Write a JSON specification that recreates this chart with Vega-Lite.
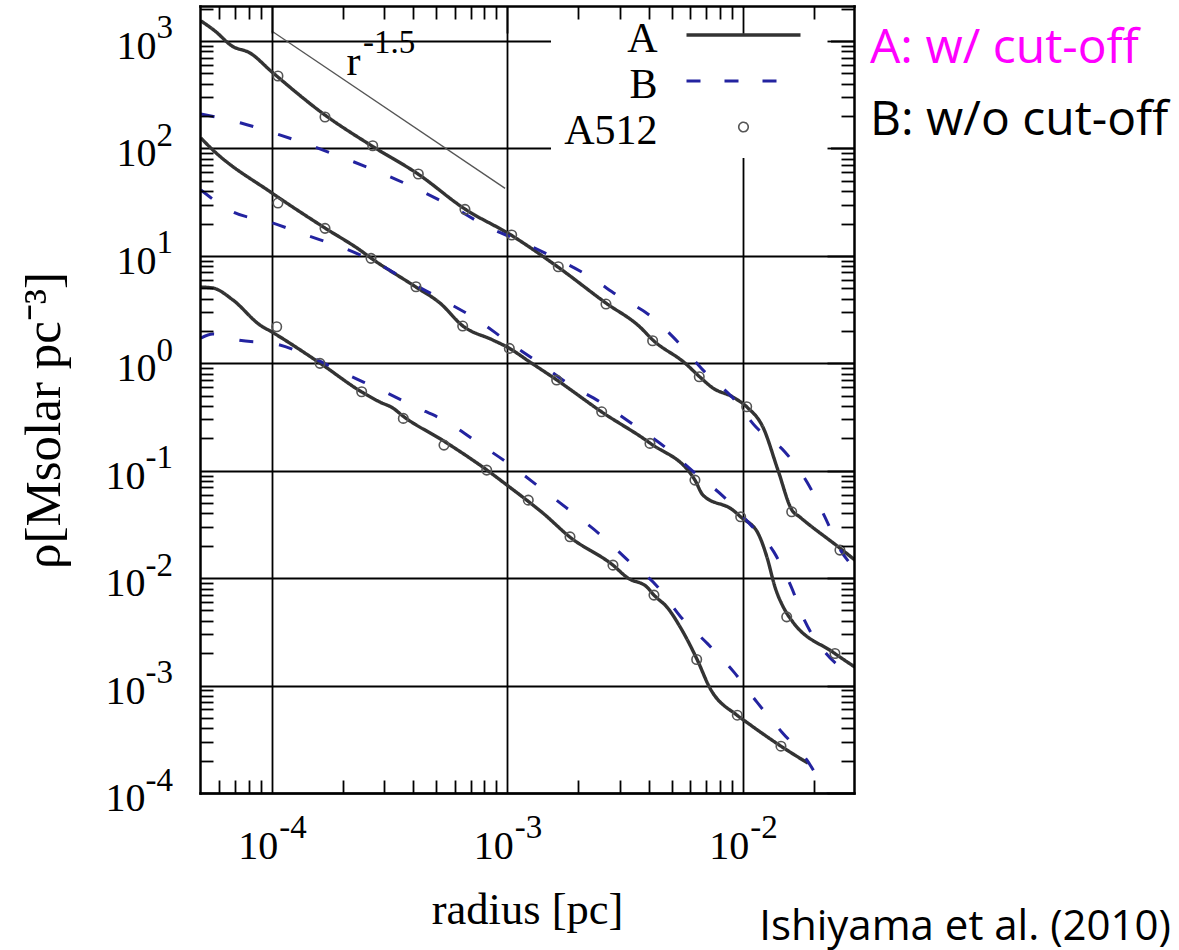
{
  "$schema": "https://vega.github.io/schema/vega-lite/v6.json",
  "width": 654,
  "height": 787,
  "autosize": {"type": "none"},
  "padding": {"left": 200, "top": 6, "right": 325, "bottom": 157},
  "background": "white",
  "title": {
    "text": "Ishiyama et al. (2010)",
    "orient": "bottom",
    "anchor": "end",
    "frame": "group",
    "font": "Open Sans",
    "fontSize": 42,
    "fontWeight": "normal",
    "color": "#000000",
    "offset": 0,
    "dx": 317,
    "dy": -25
  },
  "config": {
    "view": {"stroke": null},
    "axis": {
      "labelFont": "Liberation Serif",
      "titleFont": "Liberation Serif",
      "labelColor": "#000000",
      "titleColor": "#000000",
      "tickColor": "#000000",
      "domainColor": "#000000",
      "gridColor": "#000000",
      "labelOverlap": false,
      "labelFlush": false,
      "labelBound": false,
      "tickWidth": 1.8,
      "domainWidth": 2.5,
      "domainCap": "square",
      "gridWidth": 1.8,
      "gridOpacity": 1,
      "titleFontWeight": "normal",
      "labelFontWeight": "normal"
    }
  },
  "datasets": {
    "profiles": [
      {"model": "A", "halo": 1, "r": 0.00005, "rho": 1540},
      {"model": "A", "halo": 1, "r": 0.00005743, "rho": 1239},
      {"model": "A", "halo": 1, "r": 0.00006782, "rho": 898},
      {"model": "A", "halo": 1, "r": 0.00008089, "rho": 773},
      {"model": "A", "halo": 1, "r": 0.0001003, "rho": 514},
      {"model": "A", "halo": 1, "r": 0.0001684, "rho": 204.6},
      {"model": "A", "halo": 1, "r": 0.0002666, "rho": 105.3},
      {"model": "A", "halo": 1, "r": 0.000418, "rho": 57.8},
      {"model": "A", "halo": 1, "r": 0.0006616, "rho": 27.28},
      {"model": "A", "halo": 1, "r": 0.001038, "rho": 15.62},
      {"model": "A", "halo": 1, "r": 0.001643, "rho": 7.866},
      {"model": "A", "halo": 1, "r": 0.002627, "rho": 3.636},
      {"model": "A", "halo": 1, "r": 0.003665, "rho": 2.174},
      {"model": "A", "halo": 1, "r": 0.004158, "rho": 1.644},
      {"model": "A", "halo": 1, "r": 0.005689, "rho": 1.004},
      {"model": "A", "halo": 1, "r": 0.006588, "rho": 0.7437},
      {"model": "A", "halo": 1, "r": 0.00748, "rho": 0.5875},
      {"model": "A", "halo": 1, "r": 0.009095, "rho": 0.4845},
      {"model": "A", "halo": 1, "r": 0.01043, "rho": 0.391},
      {"model": "A", "halo": 1, "r": 0.01219, "rho": 0.2547},
      {"model": "A", "halo": 1, "r": 0.01412, "rho": 0.1013},
      {"model": "A", "halo": 1, "r": 0.01619, "rho": 0.04295},
      {"model": "A", "halo": 1, "r": 0.01751, "rho": 0.03698},
      {"model": "A", "halo": 1, "r": 0.02588, "rho": 0.01903},
      {"model": "A", "halo": 1, "r": 0.03, "rho": 0.01471},

      {"model": "A", "halo": 2, "r": 0.00005, "rho": 125.0},
      {"model": "A", "halo": 2, "r": 0.0000563, "rho": 96.6},
      {"model": "A", "halo": 2, "r": 0.0001003, "rho": 38.43},
      {"model": "A", "halo": 2, "r": 0.0001684, "rho": 18.15},
      {"model": "A", "halo": 2, "r": 0.0002371, "rho": 11.32},
      {"model": "A", "halo": 2, "r": 0.000264, "rho": 9.539},
      {"model": "A", "halo": 2, "r": 0.0004099, "rho": 5.124},
      {"model": "A", "halo": 2, "r": 0.0005183, "rho": 3.636},
      {"model": "A", "halo": 2, "r": 0.000649, "rho": 2.221},
      {"model": "A", "halo": 2, "r": 0.00087, "rho": 1.644},
      {"model": "A", "halo": 2, "r": 0.001018, "rho": 1.385},
      {"model": "A", "halo": 2, "r": 0.00125, "rho": 1.026},
      {"model": "A", "halo": 2, "r": 0.001627, "rho": 0.6977},
      {"model": "A", "halo": 2, "r": 0.002526, "rho": 0.3513},
      {"model": "A", "halo": 2, "r": 0.00404, "rho": 0.1807},
      {"model": "A", "halo": 2, "r": 0.00627, "rho": 0.08176},
      {"model": "A", "halo": 2, "r": 0.006783, "rho": 0.05927},
      {"model": "A", "halo": 2, "r": 0.009095, "rho": 0.04295},
      {"model": "A", "halo": 2, "r": 0.009835, "rho": 0.03698},
      {"model": "A", "halo": 2, "r": 0.01161, "rho": 0.02624},
      {"model": "A", "halo": 2, "r": 0.01268, "rho": 0.01568},
      {"model": "A", "halo": 2, "r": 0.01372, "rho": 0.008247},
      {"model": "A", "halo": 2, "r": 0.01512, "rho": 0.005035},
      {"model": "A", "halo": 2, "r": 0.01635, "rho": 0.003894},
      {"model": "A", "halo": 2, "r": 0.02417, "rho": 0.002046},
      {"model": "A", "halo": 2, "r": 0.03, "rho": 0.001483},

      {"model": "A", "halo": 3, "r": 0.00005, "rho": 5.124},
      {"model": "A", "halo": 3, "r": 0.0000563, "rho": 5.015},
      {"model": "A", "halo": 3, "r": 0.0000685, "rho": 3.877},
      {"model": "A", "halo": 3, "r": 0.0000892, "rho": 2.268},
      {"model": "A", "halo": 3, "r": 0.0001003, "rho": 1.952},
      {"model": "A", "halo": 3, "r": 0.0001603, "rho": 1.004},
      {"model": "A", "halo": 3, "r": 0.0002417, "rho": 0.5393},
      {"model": "A", "halo": 3, "r": 0.0002884, "rho": 0.4352},
      {"model": "A", "halo": 3, "r": 0.0003273, "rho": 0.3827},
      {"model": "A", "halo": 3, "r": 0.000361, "rho": 0.3225},
      {"model": "A", "halo": 3, "r": 0.0005389, "rho": 0.1886},
      {"model": "A", "halo": 3, "r": 0.0008207, "rho": 0.1013},
      {"model": "A", "halo": 3, "r": 0.000998, "rho": 0.07343},
      {"model": "A", "halo": 3, "r": 0.001225, "rho": 0.05209},
      {"model": "A", "halo": 3, "r": 0.001419, "rho": 0.04028},
      {"model": "A", "halo": 3, "r": 0.001848, "rho": 0.02408},
      {"model": "A", "halo": 3, "r": 0.002813, "rho": 0.01321},
      {"model": "A", "halo": 3, "r": 0.003258, "rho": 0.01},
      {"model": "A", "halo": 3, "r": 0.003925, "rho": 0.008247},
      {"model": "A", "halo": 3, "r": 0.0042, "rho": 0.00695},
      {"model": "A", "halo": 3, "r": 0.00477, "rho": 0.00537},
      {"model": "A", "halo": 3, "r": 0.005525, "rho": 0.003279},
      {"model": "A", "halo": 3, "r": 0.006395, "rho": 0.001761},
      {"model": "A", "halo": 3, "r": 0.007263, "rho": 0.000946},
      {"model": "A", "halo": 3, "r": 0.009459, "rho": 0.00053},
      {"model": "A", "halo": 3, "r": 0.01053, "rho": 0.0004466},
      {"model": "A", "halo": 3, "r": 0.01454, "rho": 0.0002728},
      {"model": "A", "halo": 3, "r": 0.01893, "rho": 0.0001894},

      {"model": "B", "halo": 1, "r": 0.00005, "rho": 209.1},
      {"model": "B", "halo": 1, "r": 0.00007405, "rho": 172.4},
      {"model": "B", "halo": 1, "r": 0.0001053, "rho": 136.2},
      {"model": "B", "halo": 1, "r": 0.0001483, "rho": 105.3},
      {"model": "B", "halo": 1, "r": 0.0002129, "rho": 77.98},
      {"model": "B", "halo": 1, "r": 0.0002998, "rho": 57.76},
      {"model": "B", "halo": 1, "r": 0.0004221, "rho": 41.0},
      {"model": "B", "halo": 1, "r": 0.0005887, "rho": 28.47},
      {"model": "B", "halo": 1, "r": 0.0008128, "rho": 18.95},
      {"model": "B", "halo": 1, "r": 0.001133, "rho": 13.73},
      {"model": "B", "halo": 1, "r": 0.001596, "rho": 9.539},
      {"model": "B", "halo": 1, "r": 0.002182, "rho": 6.624},
      {"model": "B", "halo": 1, "r": 0.003013, "rho": 4.134},
      {"model": "B", "halo": 1, "r": 0.004118, "rho": 2.693},
      {"model": "B", "halo": 1, "r": 0.005363, "rho": 1.542},
      {"model": "B", "halo": 1, "r": 0.006918, "rho": 0.8279},
      {"model": "B", "halo": 1, "r": 0.009095, "rho": 0.4742},
      {"model": "B", "halo": 1, "r": 0.01139, "rho": 0.2547},
      {"model": "B", "halo": 1, "r": 0.01512, "rho": 0.1495},
      {"model": "B", "halo": 1, "r": 0.01875, "rho": 0.07856},
      {"model": "B", "halo": 1, "r": 0.02236, "rho": 0.03698},
      {"model": "B", "halo": 1, "r": 0.02588, "rho": 0.01862},
      {"model": "B", "halo": 1, "r": 0.03, "rho": 0.01224},

      {"model": "B", "halo": 2, "r": 0.00005, "rho": 41.0},
      {"model": "B", "halo": 2, "r": 0.0000685, "rho": 25.57},
      {"model": "B", "halo": 2, "r": 0.00009835, "rho": 20.64},
      {"model": "B", "halo": 2, "r": 0.0001398, "rho": 15.62},
      {"model": "B", "halo": 2, "r": 0.0001969, "rho": 12.08},
      {"model": "B", "halo": 2, "r": 0.00028, "rho": 8.57},
      {"model": "B", "halo": 2, "r": 0.0003792, "rho": 5.827},
      {"model": "B", "halo": 2, "r": 0.0005337, "rho": 3.877},
      {"model": "B", "halo": 2, "r": 0.0007371, "rho": 2.58},
      {"model": "B", "halo": 2, "r": 0.000998, "rho": 1.609},
      {"model": "B", "halo": 2, "r": 0.001351, "rho": 1.026},
      {"model": "B", "halo": 2, "r": 0.001829, "rho": 0.6403},
      {"model": "B", "halo": 2, "r": 0.002526, "rho": 0.4261},
      {"model": "B", "halo": 2, "r": 0.003455, "rho": 0.2659},
      {"model": "B", "halo": 2, "r": 0.004677, "rho": 0.1659},
      {"model": "B", "halo": 2, "r": 0.006209, "rho": 0.09705},
      {"model": "B", "halo": 2, "r": 0.008247, "rho": 0.05801},
      {"model": "B", "halo": 2, "r": 0.01074, "rho": 0.03183},
      {"model": "B", "halo": 2, "r": 0.01358, "rho": 0.01746},
      {"model": "B", "halo": 2, "r": 0.01603, "rho": 0.008425},
      {"model": "B", "halo": 2, "r": 0.01838, "rho": 0.003978},
      {"model": "B", "halo": 2, "r": 0.02236, "rho": 0.002046},
      {"model": "B", "halo": 2, "r": 0.03, "rho": 0.001223},

      {"model": "B", "halo": 3, "r": 0.00005, "rho": 1.717},
      {"model": "B", "halo": 3, "r": 0.0000563, "rho": 1.87},
      {"model": "B", "halo": 3, "r": 0.00007262, "rho": 1.644},
      {"model": "B", "halo": 3, "r": 0.0001043, "rho": 1.509},
      {"model": "B", "halo": 3, "r": 0.0001468, "rho": 1.142},
      {"model": "B", "halo": 3, "r": 0.0002067, "rho": 0.7932},
      {"model": "B", "halo": 3, "r": 0.0002911, "rho": 0.5629},
      {"model": "B", "halo": 3, "r": 0.0004019, "rho": 0.3995},
      {"model": "B", "halo": 3, "r": 0.0005661, "rho": 0.2774},
      {"model": "B", "halo": 3, "r": 0.0007662, "rho": 0.1769},
      {"model": "B", "halo": 3, "r": 0.001048, "rho": 0.1104},
      {"model": "B", "halo": 3, "r": 0.001405, "rho": 0.06742},
      {"model": "B", "halo": 3, "r": 0.001884, "rho": 0.04116},
      {"model": "B", "halo": 3, "r": 0.002526, "rho": 0.0246},
      {"model": "B", "halo": 3, "r": 0.00332, "rho": 0.01409},
      {"model": "B", "halo": 3, "r": 0.004368, "rho": 0.008247},
      {"model": "B", "halo": 3, "r": 0.00547, "rho": 0.004333},
      {"model": "B", "halo": 3, "r": 0.007123, "rho": 0.002429},
      {"model": "B", "halo": 3, "r": 0.009183, "rho": 0.001333},
      {"model": "B", "halo": 3, "r": 0.0115, "rho": 0.0007005},
      {"model": "B", "halo": 3, "r": 0.01468, "rho": 0.0003682},
      {"model": "B", "halo": 3, "r": 0.01875, "rho": 0.000202},
      {"model": "B", "halo": 3, "r": 0.02348, "rho": 0.0000857},

      {"model": "A512", "halo": 1, "r": 0.0001063, "rho": 472},
      {"model": "A512", "halo": 1, "r": 0.0001684, "rho": 196.1},
      {"model": "A512", "halo": 1, "r": 0.0002685, "rho": 105.9},
      {"model": "A512", "halo": 1, "r": 0.0004193, "rho": 57.76},
      {"model": "A512", "halo": 1, "r": 0.0006616, "rho": 27.1},
      {"model": "A512", "halo": 1, "r": 0.001045, "rho": 15.62},
      {"model": "A512", "halo": 1, "r": 0.001648, "rho": 7.913},
      {"model": "A512", "halo": 1, "r": 0.002627, "rho": 3.558},
      {"model": "A512", "halo": 1, "r": 0.004146, "rho": 1.62},
      {"model": "A512", "halo": 1, "r": 0.006541, "rho": 0.7484},
      {"model": "A512", "halo": 1, "r": 0.0104, "rho": 0.3936},
      {"model": "A512", "halo": 1, "r": 0.01615, "rho": 0.04143},
      {"model": "A512", "halo": 1, "r": 0.02588, "rho": 0.01823},

      {"model": "A512", "halo": 2, "r": 0.0001063, "rho": 31.01},
      {"model": "A512", "halo": 2, "r": 0.0001684, "rho": 18.03},
      {"model": "A512", "halo": 2, "r": 0.0002641, "rho": 9.478},
      {"model": "A512", "halo": 2, "r": 0.0004099, "rho": 5.157},
      {"model": "A512", "halo": 2, "r": 0.0006471, "rho": 2.221},
      {"model": "A512", "halo": 2, "r": 0.001021, "rho": 1.376},
      {"model": "A512", "halo": 2, "r": 0.001622, "rho": 0.6977},
      {"model": "A512", "halo": 2, "r": 0.002519, "rho": 0.3535},
      {"model": "A512", "halo": 2, "r": 0.00404, "rho": 0.1796},
      {"model": "A512", "halo": 2, "r": 0.00627, "rho": 0.08176},
      {"model": "A512", "halo": 2, "r": 0.009806, "rho": 0.03722},
      {"model": "A512", "halo": 2, "r": 0.01538, "rho": 0.004362},
      {"model": "A512", "halo": 2, "r": 0.02465, "rho": 0.00199},

      {"model": "A512", "halo": 3, "r": 0.000105, "rho": 2.188},
      {"model": "A512", "halo": 3, "r": 0.0001603, "rho": 0.998},
      {"model": "A512", "halo": 3, "r": 0.000241, "rho": 0.5428},
      {"model": "A512", "halo": 3, "r": 0.0003621, "rho": 0.3069},
      {"model": "A512", "halo": 3, "r": 0.0005389, "rho": 0.1731},
      {"model": "A512", "halo": 3, "r": 0.0008185, "rho": 0.1013},
      {"model": "A512", "halo": 3, "r": 0.001229, "rho": 0.05323},
      {"model": "A512", "halo": 3, "r": 0.001848, "rho": 0.02424},
      {"model": "A512", "halo": 3, "r": 0.002813, "rho": 0.01321},
      {"model": "A512", "halo": 3, "r": 0.0042, "rho": 0.00695},
      {"model": "A512", "halo": 3, "r": 0.006378, "rho": 0.00175},
      {"model": "A512", "halo": 3, "r": 0.009486, "rho": 0.00053},
      {"model": "A512", "halo": 3, "r": 0.01454, "rho": 0.0002728}
    ],
    "slope": [
      {"r": 0.0001, "rho": 1239},
      {"r": 0.00098, "rho": 42.5}
    ]
  },
  "resolve": {"axis": {"x": "independent", "y": "independent"}},
  "layer": [
    {
      "data": {"name": "profiles"},
      "transform": [{"filter": "datum.model === 'A'"}],
      "mark": {"type": "line", "strokeWidth": 3.4, "interpolate": "monotone", "clip": true},
      "encoding": {
        "x": {
          "field": "r", "type": "quantitative",
          "scale": {"type": "log", "domain": [0.0000496, 0.0297], "nice": false},
          "axis": {
            "orient": "bottom", "values": [0.0001, 0.001, 0.01],
            "grid": true, "domain": false, "ticks": false,
            "labelExpr": "'10'", "labelFontSize": 40, "labelAlign": "right", "labelBaseline": "alphabetic",
            "labelOffset": 6, "labelPadding": 65,
            "title": "radius [pc]", "titleFontSize": 44.5, "titleX": 327, "titleY": 130,
            "titleAlign": "center", "titleBaseline": "alphabetic", "titleAngle": 0, "zindex": 0
          }
        },
        "y": {
          "field": "rho", "type": "quantitative",
          "scale": {"type": "log", "domain": [0.0001, 2117], "nice": false},
          "axis": {
            "orient": "left", "values": [0.0001, 0.001, 0.01, 0.1, 1, 10, 100, 1000],
            "grid": true, "domain": false, "ticks": false,
            "labelExpr": "'10'", "labelFontSize": 40, "labelAlign": "right", "labelBaseline": "alphabetic",
            "labelOffset": 17.5,
            "labelPadding": {"condition": {"test": "datum.value < 1", "value": 55}, "value": 44},
            "title": "ρ[Msolar pc⁻³]", "titleFontSize": 51, "titleX": -141, "titleY": 414,
            "titleAlign": "center", "titleBaseline": "alphabetic", "titleAngle": -90, "zindex": 0
          }
        },
        "color": {
          "field": "model", "type": "nominal",
          "scale": {"domain": ["A", "B", "A512"], "range": ["#333333", "#2323a0", "#555555"]},
          "legend": {
            "title": " ",
            "titleOrient": "right",
            "titleFontSize": 10,
            "titlePadding": 18,
            "orient": "none",
            "legendX": 351,
            "legendY": 2,
            "padding": 6,
            "fillColor": "white",
            "direction": "vertical",
            "rowPadding": 0,
            "labelFont": "Liberation Serif",
            "labelFontSize": 42,
            "labelColor": "#000000",
            "labelAlign": "right",
            "labelBaseline": "middle",
            "labelOffset": -107,
            "symbolOffset": 165.5,
            "symbolType": "M-6,0H6",
            "symbolSize": 361,
            "symbolStrokeWidth": 3.4,
            "encode": {
              "labels": {"update": {"dy": {"value": 4}}},
              "symbols": {
                "update": {
                  "shape": {"signal": "datum.value === 'A512' ? 'circle' : 'M-6,0H6'"},
                  "size": {"signal": "datum.value === 'A512' ? 90 : 361"},
                  "strokeWidth": {"signal": "datum.value === 'A512' ? 1.6 : datum.value === 'B' ? 3 : 3.4"},
                  "strokeDash": {"signal": "datum.value === 'B' ? [14, 24] : [1, 0]"},
                  "fill": {"value": "transparent"},
                  "opacity": {"value": 1}
                }
              }
            }
          }
        },
        "strokeDash": {
          "field": "model", "type": "nominal",
          "scale": {"domain": ["A", "B"], "range": [[1, 0], [14, 26]]},
          "legend": {
            "title": null,
            "orient": "none",
            "legendX": 670,
            "legendY": 18.9,
            "padding": 0,
            "direction": "vertical",
            "rowPadding": 24,
            "labelFont": "Open Sans",
            "labelFontSize": 48,
            "labelAlign": "left",
            "labelBaseline": "middle",
            "labelOffset": -48,
            "labelLimit": 0,
            "symbolSize": 0,
            "symbolOpacity": 0,
            "symbolStrokeWidth": 0,
            "labelExpr": "datum.value === 'A' ? 'A: w/ cut-off' : 'B: w/o cut-off'",
            "encode": {
              "labels": {"update": {"fill": {"signal": "datum.value === 'A' ? '#ff00ff' : '#000000'"}}}
            }
          }
        },
        "detail": {"field": "halo", "type": "nominal"}
      }
    },
    {
      "data": {"name": "profiles"},
      "transform": [{"filter": "datum.model === 'B'"}],
      "mark": {"type": "line", "strokeWidth": 3, "interpolate": "monotone", "clip": true},
      "encoding": {
        "x": {
          "field": "r", "type": "quantitative",
          "scale": {"type": "log", "domain": [0.0000496, 0.0297], "nice": false},
          "axis": {
            "orient": "bottom", "values": [0.0001, 0.001, 0.01],
            "grid": false, "domain": false, "ticks": false,
            "labelExpr": "'' + round(log(datum.value) / LN10)", "labelFontSize": 33,
            "labelAlign": "left", "labelBaseline": "alphabetic", "labelOffset": 7, "labelPadding": 44,
            "title": null, "zindex": 0
          }
        },
        "y": {
          "field": "rho", "type": "quantitative",
          "scale": {"type": "log", "domain": [0.0001, 2117], "nice": false},
          "axis": {
            "orient": "left", "values": [0.0001, 0.001, 0.01, 0.1, 1, 10, 100, 1000],
            "grid": false, "domain": false, "ticks": false,
            "labelExpr": "'' + round(log(datum.value) / LN10)", "labelFontSize": 33,
            "labelAlign": "right", "labelBaseline": "alphabetic", "labelOffset": -3, "labelPadding": 27.5,
            "title": null, "zindex": 0
          }
        },
        "color": {
          "field": "model", "type": "nominal",
          "scale": {"domain": ["A", "B", "A512"], "range": ["#333333", "#2323a0", "#555555"]}
        },
        "strokeDash": {
          "field": "model", "type": "nominal",
          "scale": {"domain": ["A", "B"], "range": [[1, 0], [14, 26]]}
        },
        "detail": {"field": "halo", "type": "nominal"}
      }
    },
    {
      "data": {"name": "profiles"},
      "transform": [{"filter": "datum.model === 'A512'"}],
      "mark": {"type": "point", "shape": "circle", "filled": false, "size": 90, "strokeWidth": 1.6, "opacity": 1, "clip": true},
      "encoding": {
        "x": {
          "field": "r", "type": "quantitative",
          "scale": {"type": "log", "domain": [0.0000496, 0.0297], "nice": false},
          "axis": {
            "orient": "bottom",
            "values": [0.00006, 0.00007, 0.00008, 0.00009, 0.0002, 0.0003, 0.0004, 0.0005, 0.0006, 0.0007, 0.0008, 0.0009, 0.002, 0.003, 0.004, 0.005, 0.006, 0.007, 0.008, 0.009, 0.02],
            "grid": false, "domain": true, "ticks": true, "tickSize": -13, "labels": false,
            "title": null, "zindex": 1
          }
        },
        "y": {
          "field": "rho", "type": "quantitative",
          "scale": {"type": "log", "domain": [0.0001, 2117], "nice": false},
          "axis": {
            "orient": "left",
            "values": [0.0002, 0.0003, 0.0004, 0.0005, 0.0006, 0.0007, 0.0008, 0.0009, 0.002, 0.003, 0.004, 0.005, 0.006, 0.007, 0.008, 0.009, 0.02, 0.03, 0.04, 0.05, 0.06, 0.07, 0.08, 0.09, 0.2, 0.3, 0.4, 0.5, 0.6, 0.7, 0.8, 0.9, 2, 3, 4, 5, 6, 7, 8, 9, 20, 30, 40, 50, 60, 70, 80, 90, 200, 300, 400, 500, 600, 700, 800, 900, 2000],
            "grid": false, "domain": true, "ticks": true, "tickSize": -13, "labels": false,
            "title": null, "zindex": 1
          }
        },
        "color": {
          "field": "model", "type": "nominal",
          "scale": {"domain": ["A", "B", "A512"], "range": ["#333333", "#2323a0", "#555555"]}
        }
      }
    },
    {
      "data": {"name": "slope"},
      "mark": {"type": "line", "color": "#555555", "strokeWidth": 1.3, "clip": true},
      "encoding": {
        "x": {
          "field": "r", "type": "quantitative",
          "scale": {"type": "log", "domain": [0.0000496, 0.0297], "nice": false},
          "axis": {
            "orient": "top", "values": [0.0001, 0.001, 0.01],
            "grid": false, "domain": true, "ticks": true, "tickSize": -27, "labels": false,
            "title": null, "zindex": 1
          }
        },
        "y": {
          "field": "rho", "type": "quantitative",
          "scale": {"type": "log", "domain": [0.0001, 2117], "nice": false},
          "axis": {
            "orient": "right", "values": [0.0001, 0.001, 0.01, 0.1, 1, 10, 100, 1000],
            "grid": false, "domain": true, "ticks": true, "tickSize": -27, "labels": false,
            "title": null, "zindex": 1
          }
        }
      }
    },
    {
      "data": {"values": [{}]},
      "mark": {"type": "text", "text": "r", "font": "Liberation Serif", "fontSize": 42, "align": "left", "baseline": "alphabetic", "color": "#000000"},
      "encoding": {
        "x": {
          "datum": 0.000208, "type": "quantitative",
          "scale": {"type": "log", "domain": [0.0000496, 0.0297], "nice": false},
          "axis": {
            "orient": "top",
            "values": [0.00006, 0.00007, 0.00008, 0.00009, 0.0002, 0.0003, 0.0004, 0.0005, 0.0006, 0.0007, 0.0008, 0.0009, 0.002, 0.003, 0.004, 0.005, 0.006, 0.007, 0.008, 0.009, 0.02],
            "grid": false, "domain": false, "ticks": true, "tickSize": -13, "labels": false,
            "title": null, "zindex": 1
          }
        },
        "y": {
          "datum": 482, "type": "quantitative",
          "scale": {"type": "log", "domain": [0.0001, 2117], "nice": false},
          "axis": {
            "orient": "right",
            "values": [0.0002, 0.0003, 0.0004, 0.0005, 0.0006, 0.0007, 0.0008, 0.0009, 0.002, 0.003, 0.004, 0.005, 0.006, 0.007, 0.008, 0.009, 0.02, 0.03, 0.04, 0.05, 0.06, 0.07, 0.08, 0.09, 0.2, 0.3, 0.4, 0.5, 0.6, 0.7, 0.8, 0.9, 2, 3, 4, 5, 6, 7, 8, 9, 20, 30, 40, 50, 60, 70, 80, 90, 200, 300, 400, 500, 600, 700, 800, 900, 2000],
            "grid": false, "domain": false, "ticks": true, "tickSize": -13, "labels": false,
            "title": null, "zindex": 1
          }
        }
      }
    },
    {
      "data": {"values": [{}]},
      "mark": {"type": "text", "text": "-1.5", "font": "Liberation Serif", "fontSize": 33, "align": "left", "baseline": "alphabetic", "color": "#000000"},
      "encoding": {
        "x": {
          "datum": 0.000244, "type": "quantitative",
          "scale": {"type": "log", "domain": [0.0000496, 0.0297], "nice": false},
          "axis": null
        },
        "y": {
          "datum": 773, "type": "quantitative",
          "scale": {"type": "log", "domain": [0.0001, 2117], "nice": false},
          "axis": null
        }
      }
    }
  ]
}
